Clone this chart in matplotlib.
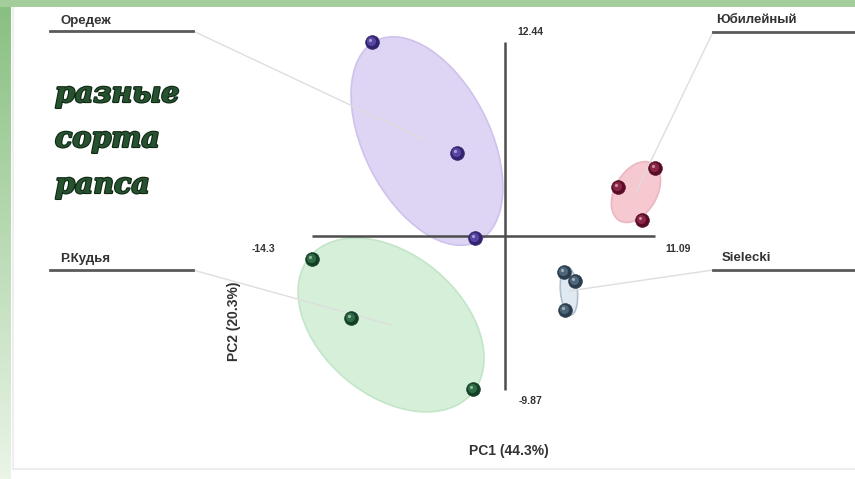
import numpy as np
import matplotlib
matplotlib.use('Agg')
import matplotlib.pyplot as plt
from matplotlib.patches import Ellipse
from matplotlib.lines import Line2D
from matplotlib.transforms import ScaledTranslation
import matplotlib.patheffects as pe

plt.rcParams['font.family'] = ['Liberation Sans', 'DejaVu Sans']

# PCA scores (4 rapeseed varieties, 3 samples each)
purple_x = [-9.86, -3.57, -2.23]
purple_y = [12.44, 5.32, -0.13]
red_x = [11.09, 8.35, 10.13]
red_y = [4.36, 3.14, 1.03]
blue_x = [4.35, 5.17, 4.43]
blue_y = [-2.31, -2.88, -4.74]
green_x = [-14.30, -11.41, -2.38]
green_y = [-1.47, -5.25, -9.81]

groups = ['Оредеж', 'Юбилейный', 'Sielecki', 'Р.Кудья']

# ellipse centres (data units), drawn size in px and tilt in degrees
ell_cx = [-5.79, 9.68, 4.72, -8.45]
ell_cy = [6.09, 2.82, -3.52, -5.70]
ell_w = [225, 66, 48, 212]
ell_h = [126, 42, 17, 141]
ell_angle = [117, 60, 95, 140]

# axis extents printed at the ends of the axis lines
x_min, x_max = -14.3, 11.09
y_min, y_max = -9.87, 12.44
pc1_label = 'PC1 (44.3%)'
pc2_label = 'PC2 (20.3%)'
title_lines = ['разные', 'сорта', 'рапса']

W, H = 855, 479
fig = plt.figure(figsize=(W / 100, H / 100), dpi=100)

# green slide frame on the left and top
bg = fig.add_axes([0, 0, 1, 1])
bg.set_axis_off()
img = np.ones((H, W, 3))
t = np.linspace(0, 1, H)[:, None]
top_c = np.array([0.53, 0.75, 0.50])
bot_c = np.array([0.92, 0.96, 0.91])
img[:, :11, :] = (top_c + (bot_c - top_c) * t)[:, None, :]
img[:7, :, :] = [0.64, 0.81, 0.61]
img[7:469, 12:14, :] = 0.94
img[468:470, 12:, :] = 0.93
bg.imshow(img, aspect='auto', interpolation='bilinear')

ax = fig.add_axes([0, 0, 1, 1])
ax.set_axis_off()
ax.patch.set_alpha(0)

# pixel box spanned by the axis lines
px_left, px_right, px_top, px_bottom = 312, 655, 42, 390
sx = (px_right - px_left) / (x_max - x_min)
sy = (px_bottom - px_top) / (y_max - y_min)
ax.set_xlim(x_min - px_left / sx, x_max + (W - px_right) / sx)
ax.set_ylim(y_min - (H - px_bottom) / sy, y_max + px_top / sy)

ax.plot([x_min, x_max], [0, 0], color='#4d4d4d', lw=1.8, zorder=3, solid_capstyle='butt')
ax.plot([0, 0], [y_min, y_max], color='#4d4d4d', lw=1.8, zorder=3, solid_capstyle='butt')

tick_kw = dict(textcoords='offset pixels', ha='center', va='center', fontsize=7.5,
               fontweight='bold', color='#333333')
ax.annotate(f'{y_max:g}', xy=(0, y_max), xytext=(25, 10), **tick_kw)
ax.annotate(f'{x_min:g}', xy=(x_min, 0), xytext=(-49, -13), **tick_kw)
ax.annotate(f'{x_max:g}', xy=(x_max, 0), xytext=(23, -13), **tick_kw)
ax.annotate(f'{y_min:g}', xy=(0, y_min), xytext=(25, -11), **tick_kw)

fig.text(509 / W, 1 - 451 / H, pc1_label, ha='center', va='center', fontsize=10,
         fontweight='bold', color='#333333')
fig.text(234 / W, 1 - 321 / H, pc2_label, ha='center', va='center', rotation=90,
         fontsize=10, fontweight='bold', color='#333333')

fills = ['#ded4f4', '#f6c8cf', '#e0e9f1', '#d5efd8']
edges = ['#cfc2ec', '#ebb7c1', '#afbfcd', '#c3e5c8']
for i in range(4):
    e = Ellipse((0, 0), ell_w[i] / 100, ell_h[i] / 100, angle=ell_angle[i],
                transform=fig.dpi_scale_trans + ScaledTranslation(ell_cx[i], ell_cy[i], ax.transData),
                facecolor=fills[i], edgecolor=edges[i], lw=1.2, zorder=1)
    ax.add_patch(e)

# group labels with underline and leader line to the ellipse centre
label_pos = [(60, 21), (716, 20), (722, 258), (60, 259)]
line_px = [(50, 193, 31), (713, 855, 32), (713, 855, 270), (50, 193, 270)]
lead_from = [(193, 31), (713, 32), (713, 270), (193, 270)]
for i in range(4):
    fig.text(label_pos[i][0] / W, 1 - label_pos[i][1] / H, groups[i], ha='left', va='center',
             fontsize=9.5, fontweight='bold', color='#333333')
    x0, x1, yy = line_px[i]
    fig.add_artist(Line2D([x0 / W, x1 / W], [1 - yy / H, 1 - yy / H], transform=fig.transFigure,
                          color='#5a5a5a', lw=2))
    ax.annotate('', xy=(ell_cx[i], ell_cy[i]), xycoords='data',
                xytext=(lead_from[i][0], H - lead_from[i][1]), textcoords='figure pixels',
                arrowprops=dict(arrowstyle='-', color='#dedede', lw=1.0, shrinkA=0, shrinkB=0),
                zorder=2)

# shaded "ball" markers
series = [(purple_x, purple_y), (red_x, red_y), (blue_x, blue_y), (green_x, green_y)]
dark = ['#33236e', '#570c27', '#2b3d4c', '#143f26']
mid = ['#5846a4', '#8b2646', '#4e6679', '#2d6d46']
off1 = ax.transData + ScaledTranslation(-0.8 / 100, 0.8 / 100, fig.dpi_scale_trans)
off2 = ax.transData + ScaledTranslation(-2 / 100, 2 / 100, fig.dpi_scale_trans)
for (xs, ys), d, m in zip(series, dark, mid):
    ax.scatter(xs, ys, s=100, color=d, edgecolor=d, lw=0.4, zorder=4)
    ax.scatter(xs, ys, s=44, color=m, lw=0, zorder=5, transform=off1)
    ax.scatter(xs, ys, s=5, color='white', alpha=0.5, lw=0, zorder=6, transform=off2)

# decorative title
baselines = [102, 147, 193]
for txt, b in zip(title_lines, baselines):
    fig.text(55 / W, 1 - b / H, txt, ha='left', va='baseline', fontsize=20.5,
             family='DejaVu Serif', fontweight='bold', style='italic', color='#27522f',
             path_effects=[pe.withStroke(linewidth=1.6, foreground='#0f2814')])

fig.savefig('out.png', dpi=100)
